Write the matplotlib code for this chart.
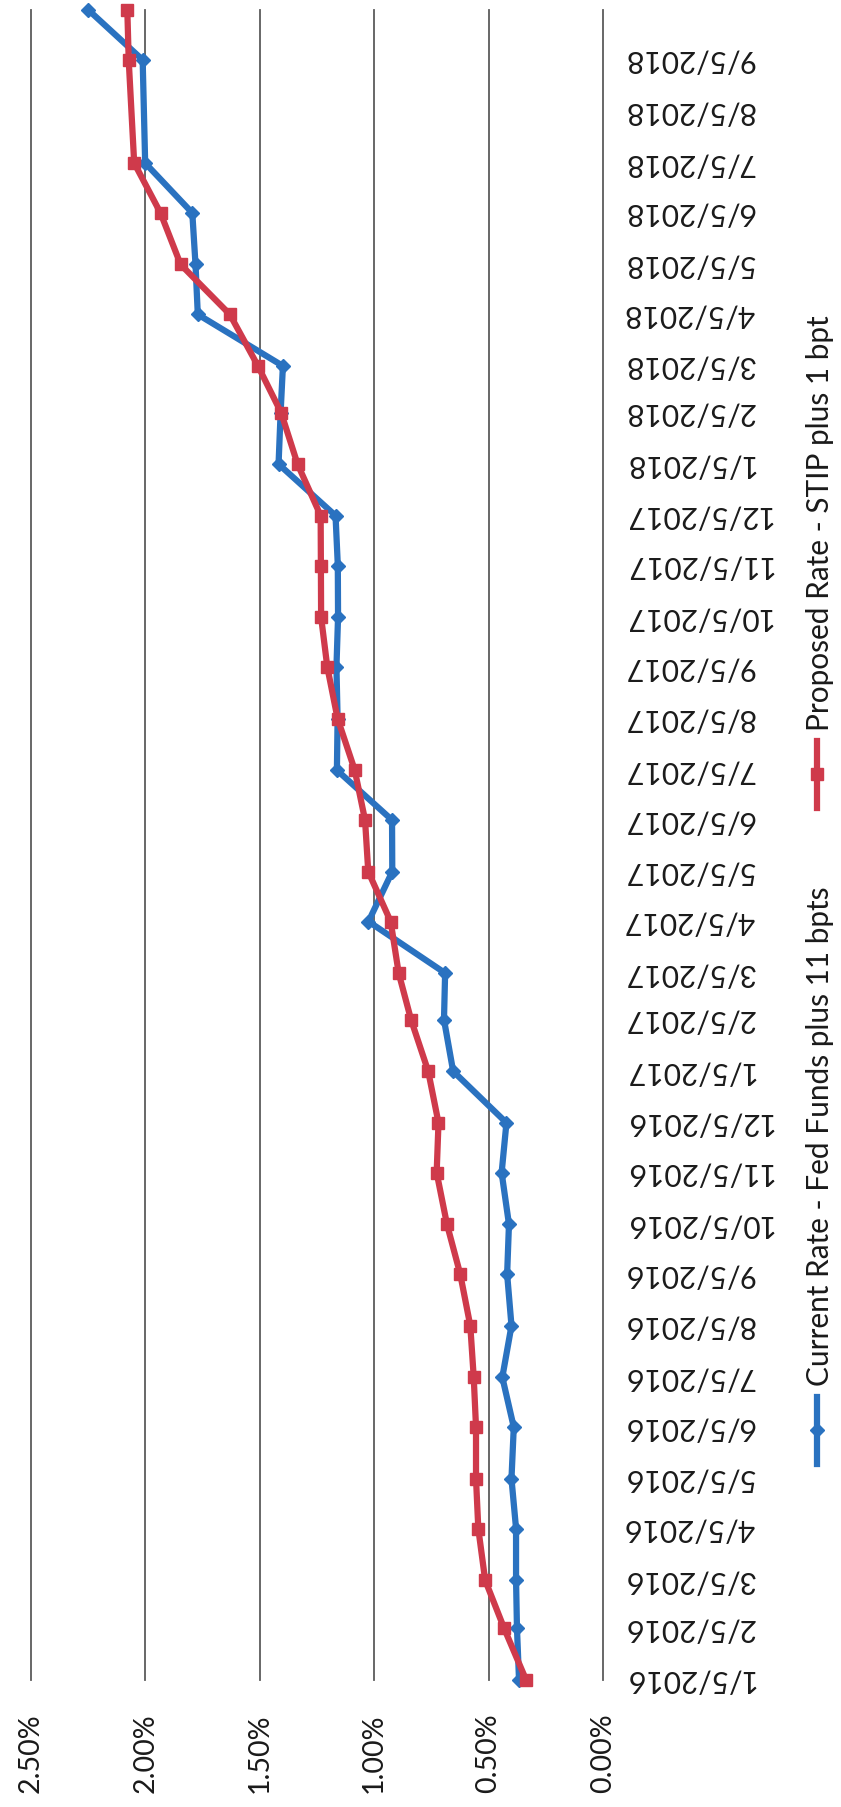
import matplotlib
matplotlib.use("Agg")
import matplotlib.pyplot as plt
from matplotlib.lines import Line2D
import pandas as pd

plt.rcParams['font.family'] = ['Lato', 'DejaVu Sans']

# ---- data ----
point_dates = ['2016-01-05', '2016-02-05', '2016-03-05', '2016-04-05', '2016-05-05', '2016-06-05',
               '2016-07-05', '2016-08-05', '2016-09-05', '2016-10-05', '2016-11-05', '2016-12-05',
               '2017-01-05', '2017-02-05', '2017-03-05', '2017-04-05', '2017-05-05', '2017-06-05',
               '2017-07-05', '2017-08-05', '2017-09-05', '2017-10-05', '2017-11-05', '2017-12-05',
               '2018-01-05', '2018-02-05', '2018-03-05', '2018-04-05', '2018-05-05', '2018-06-05',
               '2018-07-05', '2018-09-05', '2018-10-05']
current_rate = [0.367, 0.376, 0.38, 0.38, 0.40, 0.39, 0.44, 0.40, 0.419, 0.411, 0.443, 0.422,
                0.655, 0.695, 0.69, 1.025, 0.921, 0.922, 1.163, 1.16, 1.165, 1.158, 1.159, 1.169,
                1.418, 1.409, 1.399, 1.771, 1.781, 1.795, 2.001, 2.012, 2.249]
proposed_rate = [0.336, 0.432, 0.515, 0.545, 0.555, 0.555, 0.565, 0.58, 0.624, 0.682, 0.727, 0.719,
                 0.764, 0.839, 0.893, 0.928, 1.026, 1.04, 1.085, 1.16, 1.205, 1.232, 1.233, 1.234,
                 1.335, 1.407, 1.508, 1.631, 1.846, 1.934, 2.049, 2.073, 2.079]
label_start, label_end = '2016-01-05', '2018-09-05'
value_ticks = [0.0, 0.5, 1.0, 1.5, 2.0, 2.5]
series_names = ['Current Rate - Fed Funds plus 11 bpts', 'Proposed Rate - STIP plus 1 bpt']

BLUE = '#2a72c0'
RED = '#cf3a4b'
GRID = '#5c5c5c'
TXT = '#1a1a1a'

W, H = 841, 1807
fig = plt.figure(figsize=(W / 100, H / 100), dpi=100)
fig.patch.set_facecolor('white')

def fy(py):
    return 1 - py / H

ax_left, ax_right = 31, 603
ax_top, ax_bot = 10, 1680
ax = fig.add_axes([ax_left / W, fy(ax_bot), (ax_right - ax_left) / W, (ax_bot - ax_top) / H])
ax.set_facecolor('none')

d = pd.to_datetime(point_dates)
ax.plot(current_rate, d, color=BLUE, lw=4.5, marker='D', ms=7.5, mfc=BLUE, mec=BLUE,
        clip_on=False, zorder=3)
ax.plot(proposed_rate, d, color=RED, lw=4.5, marker='s', ms=8.8, mfc=RED, mec=RED,
        clip_on=False, zorder=4)

ax.set_xlim(2.5, 0.0)
ax.set_ylim(pd.Timestamp(point_dates[0]), pd.Timestamp(point_dates[-1]))

# value axis (appears at bottom, labels rotated)
ax.set_xticks(value_ticks)
ax.set_xticklabels([f"{v:.2f}%" for v in value_ticks], rotation=90, ha='center', va='top',
                   fontsize=20.5, color=TXT)
ax.tick_params(axis='x', length=0, pad=24)
ax.grid(axis='x', color=GRID, lw=1.3)
for gl in ax.get_xgridlines():
    gl.set_clip_on(False)

# date axis (appears on right, labels upside down)
lab_dates = pd.date_range(label_start, label_end, freq=pd.DateOffset(months=1))
ax.set_yticks(lab_dates)
ax.set_yticklabels([f"{t.month}/{t.day}/{t.year}" for t in lab_dates], rotation=180,
                   ha='left', va='center', fontsize=21.5, color=TXT)
ax.yaxis.tick_right()
ax.tick_params(axis='y', length=0, pad=15, labelright=True, labelleft=False)

for s in ax.spines.values():
    s.set_visible(False)

# legend (rotated, drawn manually)
tx = 820 / W
fs0 = 20.5
t_red = fig.text(tx, fy(315), series_names[1], rotation=90, ha='center', va='top',
                 fontsize=fs0, color=TXT)
fig.canvas.draw()
r = fig.canvas.get_renderer()
bb = t_red.get_window_extent(r)
fs = fs0 * 415.0 / bb.height
t_red.set_fontsize(fs)
t_blue = fig.text(tx, fy(887), series_names[0], rotation=90, ha='center', va='top',
                  fontsize=fs, color=TXT)
fig.canvas.draw()
lx = 817 / W
for t, col, mk, ms in [(t_red, RED, 's', 8.8), (t_blue, BLUE, 'D', 7.5)]:
    bb = t.get_window_extent(r)
    ybot_px = H - bb.y0  # pixel from top
    y1, y2 = ybot_px + 10, ybot_px + 77
    fig.add_artist(Line2D([lx, lx], [fy(y1), fy(y2)], transform=fig.transFigure, color=col, lw=4.5))
    fig.add_artist(Line2D([lx], [fy((y1 + y2) / 2)], transform=fig.transFigure, color=col,
                          marker=mk, ms=ms, mfc=col, mec=col, lw=0))

fig.savefig('out.png', dpi=100, facecolor='white')
